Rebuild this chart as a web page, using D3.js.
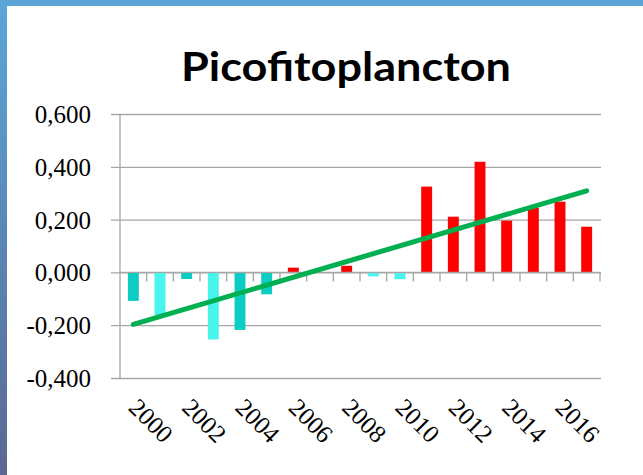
<!DOCTYPE html>
<html>
<head>
<meta charset="utf-8">
<script src="https://d3js.org/d3.v7.min.js"></script>
<style>
  html, body { margin: 0; padding: 0; background: #fff; }
  svg { display: block; }
</style>
</head>
<body>
<svg id="chart" width="643" height="475"></svg>
<script>
// chart data
const years = d3.range(2000, 2018).map(String);
const values = [-0.108, -0.162, -0.025, -0.254, -0.218, -0.083, 0.018, 0, 0.025, -0.015,
                -0.026, 0.325, 0.211, 0.419, 0.196, 0.245, 0.268, 0.173];
// colour group of each bar: "a" dark teal, "b" light cyan, "r" red
const groups = ["a", "b", "a", "b", "a", "a", "r", "r", "r", "b",
                "b", "r", "r", "r", "r", "r", "r", "r"];
const yTicks = [-0.4, -0.2, 0, 0.2, 0.4, 0.6];
const xLabels = ["2000", "2002", "2004", "2006", "2008", "2010", "2012", "2014", "2016"];
const trendEnds = [-0.197, 0.309];   // linear trendline at first and last year

const colors = { a: "#0ccdc3", b: "#48f4ec", r: "#ff0000" };
const serif = "'Liberation Serif'";

const svg = d3.select("#chart");

// blue frame
const defs = svg.append("defs");
const lg = defs.append("linearGradient").attr("id", "leftband")
    .attr("x1", 0).attr("y1", 0).attr("x2", 0).attr("y2", 1);
lg.append("stop").attr("offset", "0%").attr("stop-color", "#5aa6d8");
lg.append("stop").attr("offset", "100%").attr("stop-color", "#5a6892");
svg.append("rect").attr("x", 0).attr("y", 0).attr("width", 643).attr("height", 6).attr("fill", "#5ba3d6");
svg.append("rect").attr("x", 0).attr("y", 0).attr("width", 7).attr("height", 475).attr("fill", "url(#leftband)");

// title
svg.append("text")
    .attr("x", 346).attr("y", 81)
    .attr("text-anchor", "middle")
    .style("font-family", "'Lato'")
    .style("font-weight", "bold")
    .style("font-size", "40px")
    .attr("textLength", 330)
    .attr("lengthAdjust", "spacingAndGlyphs")
    .attr("fill", "#000")
    .text("Picofitoplancton");

const x = d3.scaleBand().domain(years).range([120, 600]).paddingInner(0.59).paddingOuter(0.295);
const y = d3.scaleLinear().domain([-0.4, 0.6]).range([378, 114]);

const fmt = v => d3.format(".3f")(v).replace(".", ",").replace("−", "-");

// gridlines with y ticks
const yAxis = svg.append("g")
    .attr("transform", "translate(120,0)")
    .call(d3.axisLeft(y).tickValues(yTicks).tickSize(-481).tickPadding(20).tickFormat(fmt));
yAxis.select(".domain").remove();
yAxis.selectAll(".tick line").attr("stroke", "#a6a6a6").attr("stroke-width", 1.3).attr("x1", -9);
yAxis.selectAll(".tick text")
    .style("font-family", serif)
    .style("font-size", "25px").attr("fill", "#000").attr("x", -29).attr("dy", "0.34em");

// y axis line
svg.append("line").attr("x1", 120).attr("x2", 120).attr("y1", y(0.6)).attr("y2", y(-0.4))
    .attr("stroke", "#a6a6a6").attr("stroke-width", 1.3);

// bars
svg.append("g").selectAll("rect")
    .data(values)
    .join("rect")
    .attr("x", (d, i) => x(years[i]))
    .attr("width", x.bandwidth())
    .attr("y", d => y(Math.max(0, d)))
    .attr("height", d => Math.abs(y(d) - y(0)))
    .attr("fill", (d, i) => colors[groups[i]]);

// x axis along zero with category ticks
const step = x.step();
const xTick = d3.scaleLinear().domain([0, years.length]).range([120, 120 + step * years.length]);
svg.append("line").attr("x1", 120).attr("x2", 601).attr("y1", y(0)).attr("y2", y(0))
    .attr("stroke", "#a6a6a6").attr("stroke-width", 1.3);
svg.append("g").selectAll("line")
    .data(d3.range(1, years.length + 1))
    .join("line")
    .attr("x1", d => xTick(d)).attr("x2", d => xTick(d))
    .attr("y1", y(0)).attr("y2", y(0) + 9)
    .attr("stroke", "#a6a6a6").attr("stroke-width", 1.3);

// trendline
svg.append("line")
    .attr("x1", x(years[0]) + x.bandwidth() / 2)
    .attr("x2", x(years[years.length - 1]) + x.bandwidth() / 2)
    .attr("y1", y(trendEnds[0])).attr("y2", y(trendEnds[1]))
    .attr("stroke", "#00b050").attr("stroke-width", 5).attr("stroke-linecap", "round");

// rotated year labels
svg.append("g").selectAll("text")
    .data(xLabels)
    .join("text")
    .attr("transform", d => "translate(" + (x(d) + x.bandwidth() / 2 - 6) + ",409) rotate(45)")
    .style("font-family", serif)
    .style("font-size", "25px")
    .attr("fill", "#000")
    .text(d => d);
</script>
</body>
</html>
